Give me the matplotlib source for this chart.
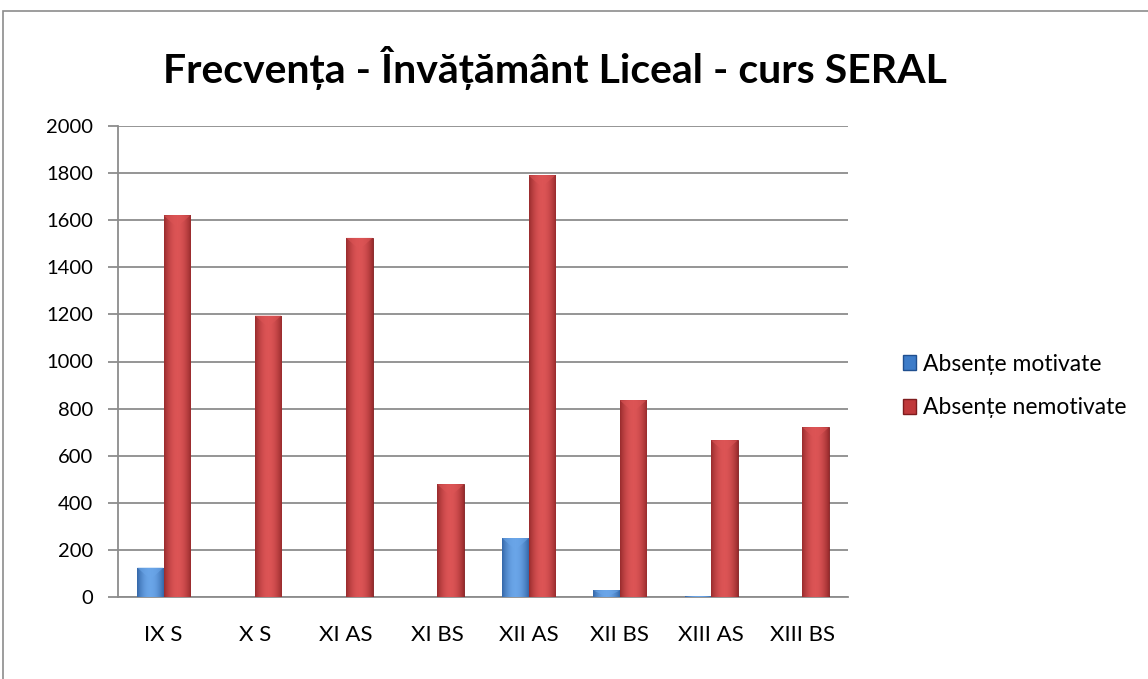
import numpy as np
import matplotlib.pyplot as plt
from matplotlib.patches import Rectangle, Polygon, Patch
from matplotlib.colors import LinearSegmentedColormap

# Data
classes = ["IX S", "X S", "XI AS", "XI BS", "XII AS", "XII BS", "XIII AS", "XIII BS"]
motivate = [125, 0, 0, 0, 250, 28, 3, 0]
nemotivate = [1620, 1195, 1525, 478, 1790, 835, 665, 720]
series_names = ["Absențe motivate", "Absențe nemotivate"]
yticks = list(range(0, 2001, 200))

plt.rcParams["font.family"] = ["Lato", "DejaVu Sans"]

W, H = 1148, 679
fig = plt.figure(figsize=(W / 100, H / 100), dpi=100)
ax = fig.add_axes([118 / W, 1 - 597 / H, (848 - 118) / W, (597 - 126) / H])

# chart area border
fig.patches.append(Rectangle((3 / W, -0.1), 1.2, 1 - 11 / H + 0.1, transform=fig.transFigure,
                             fill=False, edgecolor="#8c8c8c", lw=1.2, zorder=0))

x = np.arange(len(classes))
w = 0.29


def bevel_bars(xs, vals, base, light, dark):
    cmap = LinearSegmentedColormap.from_list("b", [light, dark])
    for xc, v in zip(xs, vals):
        if v <= 0:
            continue
        x0 = xc - w / 2
        # body with horizontal gradient (dark edges, lighter middle)
        grad = (np.abs(np.linspace(-1, 1, 64)) ** 2)[np.newaxis, :]
        rect = Rectangle((x0, 0), w, v, facecolor=base, edgecolor=dark, lw=0.6, zorder=3)
        ax.add_patch(rect)
        im = ax.imshow(grad, cmap=cmap, extent=(x0, x0 + w, 0, v), aspect="auto",
                       vmin=0, vmax=1.4, zorder=3, interpolation="bilinear")
        im.set_clip_path(rect)
        # small bevel at the top
        bh = min(v, 50)
        tri = Polygon([(x0, v), (x0 + w, v), (x0 + w / 2, v - bh)], closed=True,
                      facecolor=light, edgecolor="none", alpha=0.6, zorder=4)
        ax.add_patch(tri)


bevel_bars(x - w / 2, motivate, "#3d7cc9", "#6aa5e8", "#1f4f8f")
bevel_bars(x + w / 2, nemotivate, "#c0393b", "#dc5455", "#7e1c1e")

ax.set_xlim(-0.5, len(classes) - 0.5)
ax.set_ylim(0, 2000)
ax.set_yticks(yticks)
ax.set_xticks(x)
ax.set_xticklabels(classes)
ax.yaxis.grid(True, color="#8c8c8c", lw=1.3)
ax.set_axisbelow(True)
for s in ["top", "right"]:
    ax.spines[s].set_visible(False)
for s in ["left", "bottom"]:
    ax.spines[s].set_color("#8c8c8c")
    ax.spines[s].set_linewidth(1.3)
ax.tick_params(axis="y", length=7, width=1.3, color="#8c8c8c", labelsize=14.5, pad=11)
ax.tick_params(axis="x", length=0, labelsize=16, pad=20)

fig.text(555 / W, 1 - 68 / H, "Frecvența - Învățământ Liceal - curs SERAL",
         ha="center", va="center", fontsize=29.5, fontweight="bold")

# legend
handles = [Patch(facecolor="#3d7cc9", edgecolor="#1f4f8f"),
           Patch(facecolor="#c0393b", edgecolor="#7e1c1e")]
fig.legend(handles, series_names, loc="center left", bbox_to_anchor=(882 / W, 1 - 386 / H),
           frameon=False, fontsize=16.5, handlelength=0.6, handleheight=0.6,
           handletextpad=0.3, labelspacing=1.0)

fig.savefig("out.png", dpi=100)
